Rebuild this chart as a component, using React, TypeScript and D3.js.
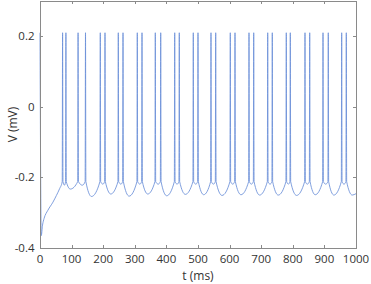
import React from "react";
import * as d3 from "d3";

// ---- data ----
const xTicks = [0, 100, 200, 300, 400, 500, 600, 700, 800, 900, 1000];
const yTicks = [-0.4, -0.2, 0, 0.2];
const yTickLabels = ["-0.4", "-0.2", "0", "0.2"];

// spike peak times (ms)
const spikeTimes = [
  71.5, 82, 120.5, 144, 190.8, 205.7, 247.8, 262.7, 307.9, 322.8, 364.9, 382.0,
  426.3, 440.8, 485.1, 500.0, 541.1, 556.0, 602.2, 617.1, 661.4, 676.3, 720.6,
  735.1, 779.4, 792.1, 838.6, 853.5, 895.6, 912.3, 954.7, 969.3,
];
const spikePeakV = 0.21;
// spike shape around each peak: time offsets and voltages
const spikeShapeDt = [-1.2, 0, 1.2];
const spikeShapeV = [-0.212, spikePeakV, -0.212];

// minima between consecutive spikes (and after the last one)
const minTimes = [
  77.5, 96, 134, 163, 199, 224, 256, 282, 316, 341, 374, 401, 434, 460, 493,
  518, 549, 576, 610, 636, 669, 695, 728, 754, 786, 812, 846, 871, 904, 930,
  962, 988,
];
const minValues = [
  -0.222, -0.233, -0.222, -0.254, -0.219, -0.247, -0.219, -0.253, -0.219,
  -0.247, -0.219, -0.252, -0.219, -0.248, -0.219, -0.249, -0.219, -0.251,
  -0.219, -0.249, -0.219, -0.25, -0.219, -0.25, -0.219, -0.251, -0.219, -0.249,
  -0.219, -0.25, -0.219, -0.25,
];

// initial transient
const startT = [0, 4, 8, 13, 25, 41, 52, 62];
const startV = [0.21, -0.365, -0.335, -0.316, -0.293, -0.27, -0.251, -0.232];
const endT = 1000;
const endV = -0.246;

const W = 371;
const H = 284;
const left = 40;
const right = 356;
const top = 1;
const bottom = 248;

export default function App() {
  const x = d3.scaleLinear().domain([0, 1000]).range([left, right]);
  const y = d3.scaleLinear().domain([-0.4, 0.3]).range([bottom, top]);

  const pts: [number, number][] = [];
  startT.forEach((t, i) => pts.push([t, startV[i]]));
  spikeTimes.forEach((s, i) => {
    spikeShapeDt.forEach((dt, j) => pts.push([s + dt, spikeShapeV[j]]));
    pts.push([minTimes[i], minValues[i]]);
  });
  pts.push([endT, endV]);

  const line = d3
    .line<[number, number]>()
    .x((d) => x(d[0]))
    .y((d) => y(d[1]))
    .curve(d3.curveMonotoneX);

  const axisColor = "#8a8a8a";
  const textColor = "#333333";
  const font = "'Open Sans', 'Noto Sans', sans-serif";
  const tl = 3;

  return (
    <svg
      width={W}
      height={H}
      style={{ position: "absolute", left: 0, top: 0, background: "#fff" }}
    >
      <rect x={0} y={0} width={W} height={H} fill="#fff" />
      <path d={line(pts) || ""} fill="none" stroke="#6a8fd8" strokeWidth={0.85} />
      {/* box */}
      <rect
        x={left + 0.5}
        y={top + 0.5}
        width={right - left}
        height={bottom - top}
        fill="none"
        stroke={axisColor}
        strokeWidth={1}
        shapeRendering="crispEdges"
      />
      {xTicks.map((t) => (
        <g key={"xt" + t}>
          <line
            x1={Math.round(x(t)) + 0.5}
            x2={Math.round(x(t)) + 0.5}
            y1={bottom}
            y2={bottom - tl}
            stroke={axisColor}
          />
          <line
            x1={Math.round(x(t)) + 0.5}
            x2={Math.round(x(t)) + 0.5}
            y1={top}
            y2={top + tl}
            stroke={axisColor}
          />
          <text
            x={x(t)}
            y={263}
            textAnchor="middle"
            fontFamily={font}
            fontSize={11.5}
            fill={textColor}
          >
            {t}
          </text>
        </g>
      ))}
      {yTicks.map((v, i) => (
        <g key={"yt" + v}>
          <line
            x1={left}
            x2={left + tl}
            y1={Math.round(y(v)) + 0.5}
            y2={Math.round(y(v)) + 0.5}
            stroke={axisColor}
          />
          <line
            x1={right}
            x2={right - tl}
            y1={Math.round(y(v)) + 0.5}
            y2={Math.round(y(v)) + 0.5}
            stroke={axisColor}
          />
          <text
            x={34.5}
            y={y(v) + 4}
            textAnchor="end"
            fontFamily={font}
            fontSize={11.5}
            fill={textColor}
          >
            {yTickLabels[i]}
          </text>
        </g>
      ))}
      <text
        x={(left + right) / 2}
        y={280}
        textAnchor="middle"
        fontFamily={font}
        fontSize={12}
        fill={textColor}
      >
        t (ms)
      </text>
      <text
        transform={`translate(17, ${(top + bottom) / 2}) rotate(-90)`}
        textAnchor="middle"
        fontFamily={font}
        fontSize={12}
        fill={textColor}
      >
        V (mV)
      </text>
    </svg>
  );
}
